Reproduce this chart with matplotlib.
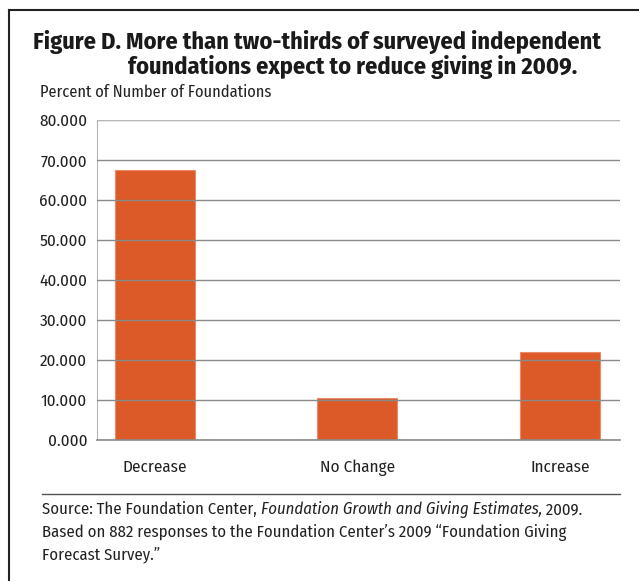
import matplotlib
matplotlib.use("Agg")
import matplotlib.pyplot as plt
from matplotlib.lines import Line2D

categories = ["Decrease", "No Change", "Increase"]
percents = [67.4, 10.4, 22.0]
yticks = [0, 10, 20, 30, 40, 50, 60, 70, 80]

plt.rcParams["font.family"] = ["Fira Sans Condensed", "Roboto Condensed", "DejaVu Sans"]
INK = "#222222"

W, H = 639, 581
fig = plt.figure(figsize=(W / 100, H / 100), dpi=100)

def px(x, y):
    # pixel coords (top-left origin) -> figure fraction
    return x / W, 1 - y / H

# axes box in pixels: left 97, right 620, top 120, bottom 440
ax = fig.add_axes([97 / W, 1 - 440 / H, (620 - 97) / W, (440 - 120) / H])
x = list(range(len(categories)))
ax.bar(x, percents, width=0.395, color="#dc5a27", edgecolor="#e98a6a",
       linewidth=0.8, zorder=1)
ax.set_xlim(-0.286, 2.296)
ax.set_ylim(0, 80)
ax.set_yticks(yticks)
ax.set_yticklabels([f"{v:.3f}" for v in yticks], fontsize=12.3, color=INK)
ax.yaxis.grid(True, color="#8a8a8a", linewidth=1.0)
ax.set_axisbelow(False)
ax.tick_params(axis="y", length=0, pad=7)
ax.set_xticks(x)
ax.set_xticklabels(categories, fontsize=12.3, color=INK)
ax.tick_params(axis="x", length=0, pad=14)
for s in ["top", "right", "bottom"]:
    ax.spines[s].set_visible(False)
ax.spines["left"].set_color("#b5b5b5")
ax.axhline(80, color="#c0c0c0", linewidth=1.2, zorder=3)
ax.axhline(0, color="#8a8a8a", linewidth=1.2, zorder=3, clip_on=False)

# title and axis note
fig.text(*px(33, 49), "Figure D. More than two-thirds of surveyed independent",
         fontsize=17.5, fontweight="bold", color="#1a1a1a", va="baseline")
fig.text(*px(128, 74), "foundations expect to reduce giving in 2009.",
         fontsize=17.5, fontweight="bold", color="#1a1a1a", va="baseline")
fig.text(*px(40, 97), "Percent of Number of Foundations",
         fontsize=11.8, color=INK, va="baseline")

# source notes
fig.add_artist(Line2D([42 / W, 620 / W], [1 - 494 / H] * 2, color="#555555", linewidth=1.0))
r = fig.canvas.get_renderer()
xcur = 42
for part, st in [("Source: The Foundation Center, ", "normal"),
                 ("Foundation Growth and Giving Estimates,", "italic"),
                 (" 2009.", "normal")]:
    t = fig.text(*px(xcur, 514), part, fontsize=12, style=st, color=INK, va="baseline")
    xcur = t.get_window_extent(r).x1
fig.text(*px(42, 537),
         "Based on 882 responses to the Foundation Center\u2019s 2009 \u201cFoundation Giving",
         fontsize=12, color=INK, va="baseline")
fig.text(*px(42, 559), "Forecast Survey.\u201d", fontsize=12, color=INK, va="baseline")

# frame around the figure (left and top edges visible)
fig.add_artist(Line2D([8.5 / W] * 2, [0, 1 - 10 / H], color=INK, linewidth=1.5))
fig.add_artist(Line2D([8.5 / W, 1], [1 - 10 / H] * 2, color=INK, linewidth=1.5))

fig.savefig("out.png", dpi=100)
